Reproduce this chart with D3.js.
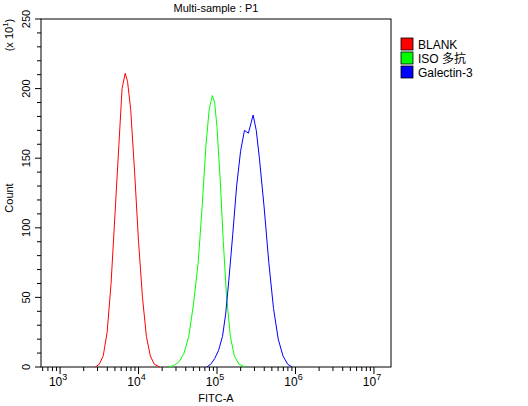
<!DOCTYPE html>
<html>
<head>
<meta charset="utf-8">
<script src="https://d3js.org/d3.v7.min.js"></script>
<style>
body{margin:0;background:#fff;font-family:Arial,"Liberation Sans",sans-serif}
text{font-family:Arial,"Liberation Sans","Noto Sans CJK SC",sans-serif}
</style>
</head>
<body>
<svg id="chart" width="528" height="406"></svg>
<script>
// series as [log10(FITC-A), count]
var blank = [[3.45,0],[3.5,2],[3.55,8],[3.6,25],[3.65,60],[3.7,110],[3.75,160],[3.79,200],[3.83,211],[3.86,205],[3.9,185],[3.95,140],[4.0,90],[4.05,50],[4.1,22],[4.15,8],[4.2,2],[4.27,0]];
var iso = [[4.38,0],[4.45,1],[4.52,4],[4.58,10],[4.64,22],[4.7,45],[4.76,75],[4.81,115],[4.86,160],[4.9,185],[4.94,195],[4.97,190],[5.0,172],[5.04,135],[5.08,90],[5.12,52],[5.17,22],[5.22,8],[5.28,2],[5.36,0]];
var galectin = [[4.87,0],[4.92,2],[4.97,6],[5.02,12],[5.07,22],[5.11,38],[5.15,62],[5.2,95],[5.25,130],[5.3,155],[5.35,170],[5.4,168],[5.46,181],[5.5,170],[5.54,150],[5.6,115],[5.66,75],[5.72,42],[5.78,20],[5.84,8],[5.9,2],[5.955,0]];
var seriesNames = ["BLANK","ISO 多抗","Galectin-3"];
var seriesColors = ["#ff0000","#00ff00","#0000ff"];
var yTicks = [0,50,100,150,200,250];

var svg = d3.select("#chart");
var x = d3.scaleLinear().domain([2.757,7.217]).range([41,391]);
var y = d3.scaleLinear().domain([0,250]).range([367,19]);

// frame
svg.append("rect").attr("x",41).attr("y",19).attr("width",350).attr("height",348)
	.attr("fill","none").attr("stroke","#000").attr("stroke-width",1);

// curves
var line = d3.line().x(function(d){return x(d[0]);}).y(function(d){return y(d[1]);});
[blank,iso,galectin].forEach(function(s,i){
	svg.append("path").attr("d",line(s)).attr("fill","none")
		.attr("stroke",seriesColors[i]).attr("stroke-width",1);
});

// y axis ticks
var g = svg.append("g");
d3.range(0,251,10).forEach(function(v){
	var major = v % 50 === 0;
	g.append("line").attr("x1",41-(major?6:4)).attr("x2",41).attr("y1",y(v)).attr("y2",y(v)).attr("stroke","#000");
});
yTicks.forEach(function(v){
	g.append("text").attr("transform","translate(30,"+y(v)+") rotate(-90)")
		.attr("text-anchor","middle").attr("font-size",11).text(v);
});

// x axis ticks
for (var d = 2; d <= 7; d++) {
	for (var m = 1; m <= 9; m++) {
		var lv = d + Math.log10(m);
		if (lv < 2.757 || lv > 7.217) continue;
		svg.append("line").attr("x1",x(lv)).attr("x2",x(lv)).attr("y1",367)
			.attr("y2",367+(m===1?7:4)).attr("stroke","#000");
	}
}
d3.range(3,8).forEach(function(e){
	var t = svg.append("text").attr("x",x(e)-2).attr("y",386).attr("text-anchor","middle").attr("font-size",12);
	t.append("tspan").text("10");
	t.append("tspan").attr("dy",-6).attr("font-size",9).text(e);
});

// titles
svg.append("text").attr("x",216).attr("y",12).attr("text-anchor","middle").attr("font-size",11).text("Multi-sample : P1");
svg.append("text").attr("x",216).attr("y",402).attr("text-anchor","middle").attr("font-size",11).text("FITC-A");
svg.append("text").attr("transform","translate(13,198) rotate(-90)").attr("text-anchor","middle").attr("font-size",11).text("Count");
var yl = svg.append("text").attr("transform","translate(13,35) rotate(-90)").attr("text-anchor","middle").attr("font-size",11);
yl.append("tspan").text("(x 10");
yl.append("tspan").attr("dy",-5).attr("font-size",8).text("1");
yl.append("tspan").attr("dy",5).text(")");

// legend
seriesNames.forEach(function(n,i){
	var ly = 38 + i*14;
	svg.append("rect").attr("x",401).attr("y",ly).attr("width",12).attr("height",12)
		.attr("fill",seriesColors[i]).attr("stroke","#000").attr("stroke-width",0.8);
	svg.append("text").attr("x",418).attr("y",ly+11).attr("font-size",12).text(n);
});
</script>
</body>
</html>
